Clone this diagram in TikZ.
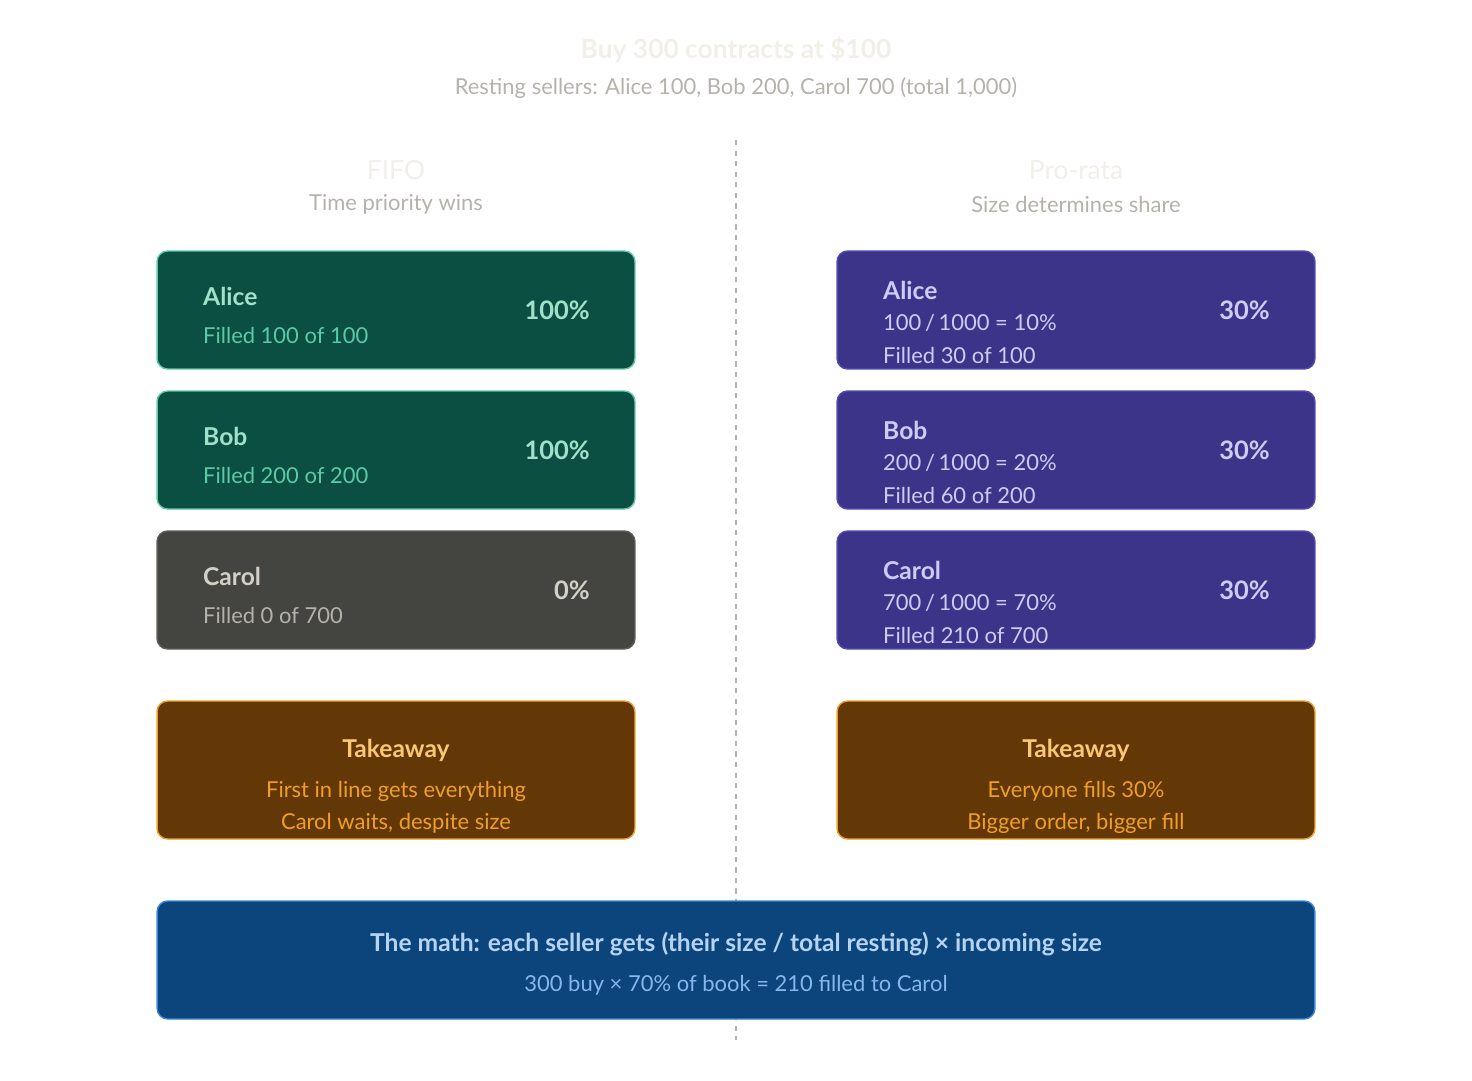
\documentclass[tikz,border=0pt]{standalone}
\usepackage{fontspec}
\setmainfont{Lato}
\usetikzlibrary{positioning}
\definecolor{fifofill}{HTML}{0A4F42}
\definecolor{fifoline}{HTML}{5DCAA5}
\definecolor{fifotext}{HTML}{9FE1CB}
\definecolor{idlefill}{HTML}{444441}
\definecolor{idleline}{HTML}{5F5E5A}
\definecolor{idletext}{HTML}{D3D1C7}
\definecolor{idlesub}{HTML}{B4B2A9}
\definecolor{prorfill}{HTML}{3C3489}
\definecolor{prorline}{HTML}{534AB7}
\definecolor{prortext}{HTML}{CECBF6}
\definecolor{takefill}{HTML}{633806}
\definecolor{takeline}{HTML}{EF9F27}
\definecolor{taketext}{HTML}{FAC775}
\definecolor{mathfill}{HTML}{0C447C}
\definecolor{mathline}{HTML}{378ADD}
\definecolor{mathtext}{HTML}{B5D4F4}
\definecolor{mathsub}{HTML}{85B7EB}
\definecolor{faint}{HTML}{F1EFE8}
\definecolor{muted}{HTML}{B4B2A9}
\tikzset{
  card/.style={draw, rounded corners=6pt, line width=0.8pt, minimum width=9.56cm, minimum height=2.36cm},
  seller/.style={anchor=west, font=\fontsize{14}{16}\selectfont\bfseries},
  detail/.style={anchor=west, font=\fontsize{12.5}{14}\selectfont},
  pct/.style={anchor=east, font=\fontsize{14.5}{16}\selectfont\bfseries},
}
\begin{document}
\begin{tikzpicture}[x=0.02cm, y=-0.02cm]
        \useasboundingbox (0,0) rectangle (1472,1080);

        % Header
        \node [text=faint, font=\fontsize{15}{18}\selectfont\bfseries] (title) at (736,50) {Buy 300 contracts at \$100};
        \node [text=muted, font=\fontsize{12.5}{15}\selectfont] (resting) at (736,88) {Resting sellers: Alice 100, Bob 200, Carol 700 (total 1,000)};
        \coordinate (divtop) at (736,140);
        \coordinate (divbot) at (736,1040);
        \draw [muted, dashed, line width=0.8pt] (divtop) -- (divbot);

        \node [text=faint, font=\fontsize{15}{18}\selectfont] (fifo) at (396,170) {FIFO};
        \node [text=muted, font=\fontsize{12.5}{15}\selectfont] (fifosub) at (396,204) {Time priority wins};
        \node [text=faint, font=\fontsize{15}{18}\selectfont] (pro) at (1076,170) {Pro-rata};
        \node [text=muted, font=\fontsize{12.5}{15}\selectfont] (prosub) at (1076,204) {Size determines share};

        % FIFO column
        \node [card, fill=fifofill, draw=fifoline] (fa) at (396,310) {};
        \node [seller, text=fifotext] at (197,296) {Alice};
        \node [detail, text=fifoline] at (197,335) {Filled 100 of 100};
        \node [pct, text=fifotext] at (596,310) {100\%};

        \node [card, fill=fifofill, draw=fifoline] (fb) at (396,450) {};
        \node [seller, text=fifotext] at (197,436) {Bob};
        \node [detail, text=fifoline] at (197,475) {Filled 200 of 200};
        \node [pct, text=fifotext] at (596,450) {100\%};

        \node [card, fill=idlefill, draw=idleline] (fc) at (396,590) {};
        \node [seller, text=idletext] at (197,576) {Carol};
        \node [detail, text=idlesub] at (197,615) {Filled 0 of 700};
        \node [pct, text=idletext] at (596,590) {0\%};

        % Pro-rata column
        \foreach \who/\size/\pc/\got/\yy in {Alice/100/10/30/310, Bob/200/20/60/450, Carol/700/70/210/590} {
          \node [card, fill=prorfill, draw=prorline] at (1076,\yy) {};
          \node [seller, text=prortext] at (877,\yy-20) {\who};
          \node [detail, text=prortext] at (877,\yy+13) {\size\,/\,1000 = \pc\%};
          \node [detail, text=prortext] at (877,\yy+45) {Filled \got\ of \size};
          \node [pct, text=prortext] at (1276,\yy) {30\%};
        }

        % Takeaways
        \node [card, minimum height=2.76cm, fill=takefill, draw=takeline] (ta) at (396,770) {};
        \node [text=taketext, font=\fontsize{14}{16}\selectfont\bfseries] at (396,750) {Takeaway};
        \node [text=takeline, font=\fontsize{12.5}{14}\selectfont] at (396,791) {First in line gets everything};
        \node [text=takeline, font=\fontsize{12.5}{14}\selectfont] at (396,823) {Carol waits, despite size};

        \node [card, minimum height=2.76cm, fill=takefill, draw=takeline] (tb) at (1076,770) {};
        \node [text=taketext, font=\fontsize{14}{16}\selectfont\bfseries] at (1076,750) {Takeaway};
        \node [text=takeline, font=\fontsize{12.5}{14}\selectfont] at (1076,791) {Everyone fills 30\%};
        \node [text=takeline, font=\fontsize{12.5}{14}\selectfont] at (1076,823) {Bigger order, bigger fill};

        % Math
        \node [card, minimum width=23.16cm, fill=mathfill, draw=mathline] (math) at (736,960) {};
        \node [text=mathtext, font=\fontsize{14}{16}\selectfont\bfseries] at (736,944) {The math: each seller gets (their size / total resting) × incoming size};
        \node [text=mathsub, font=\fontsize{12.5}{14}\selectfont] at (736,985) {300 buy × 70\% of book = 210 filled to Carol};
    \end{tikzpicture}
\end{document}
